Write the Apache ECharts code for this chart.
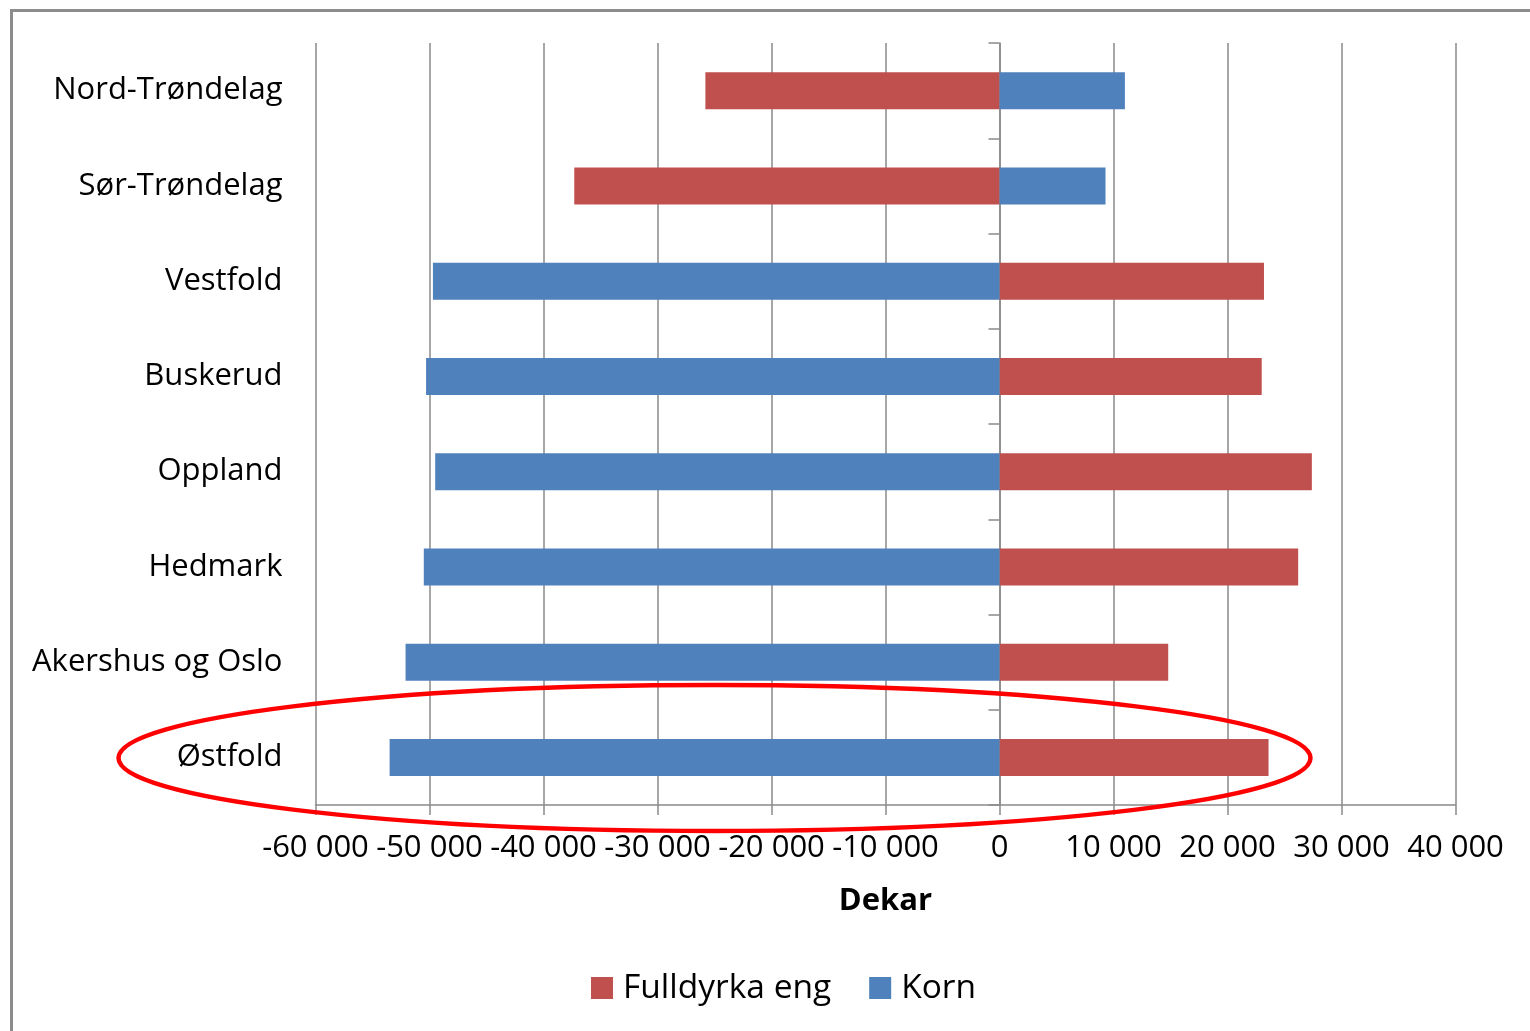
<!DOCTYPE html>
<html>
<head>
<meta charset="utf-8">
<script src="https://cdn.jsdelivr.net/npm/echarts@6/dist/echarts.min.js"></script>
<style>
  html, body { margin: 0; padding: 0; background: #fff; }
  #chart { width: 1530px; height: 1031px; }
</style>
</head>
<body>
<div id="chart"></div>
<script>
// Fylker, listed from bottom to top of the category axis
const categories = ['Østfold', 'Akershus og Oslo', 'Hedmark', 'Oppland', 'Buskerud', 'Vestfold', 'Sør-Trøndelag', 'Nord-Trøndelag'];
// Change in dekar per crop type
const fulldyrkaEng = [23600, 14800, 26200, 27400, 23000, 23200, -37300, -25800];
const korn = [-53500, -52100, -50500, -49500, -50300, -49700, 9300, 11000];
const seriesNames = ['Fulldyrka eng', 'Korn'];
const axisMin = -60000, axisMax = 40000, axisStep = 10000;

const FONT = '"Open Sans", Lato, sans-serif';
const GRID_COLOR = '#8a8a8a';

function fmt(v) {
  const s = Math.abs(v).toString().replace(/\B(?=(\d{3})+(?!\d))/g, ' ');
  return (v < 0 ? '-' : '') + s;
}

const chart = echarts.init(document.getElementById('chart'), null, { renderer: 'canvas' });
chart.setOption({
  backgroundColor: '#ffffff',
  animation: false,
  textStyle: { fontFamily: FONT },
  grid: { left: 315.5, right: 74.5, top: 43, bottom: 226, containLabel: false },
  legend: {
    data: seriesNames,
    bottom: 21,
    left: 586,
    itemWidth: 22,
    itemHeight: 22,
    itemGap: 38,
    icon: 'rect',
    textStyle: { fontFamily: FONT, fontSize: 33.5, color: '#000', padding: [0, 0, 0, 5] }
  },
  xAxis: {
    type: 'value',
    min: axisMin,
    max: axisMax,
    interval: axisStep,
    name: 'Dekar',
    nameLocation: 'middle',
    nameGap: 81,
    nameTextStyle: { fontFamily: FONT, fontSize: 31, fontWeight: 'bold', color: '#000' },
    axisLine: { show: true, lineStyle: { color: GRID_COLOR, width: 1.5 } },
    axisTick: { show: true, length: 10, lineStyle: { color: GRID_COLOR, width: 1.5 } },
    axisLabel: { fontFamily: FONT, fontSize: 31, color: '#000', margin: 28, formatter: fmt },
    splitLine: { show: true, lineStyle: { color: GRID_COLOR, width: 1.5 } }
  },
  yAxis: [
    {
      // category names along the left edge
      type: 'category',
      data: categories,
      position: 'left',
      axisLine: { show: false, onZero: false },
      axisTick: { show: false },
      axisLabel: { fontFamily: FONT, fontSize: 31, color: '#000', margin: 33, padding: [4, 0, 0, 0] },
      splitLine: { show: false }
    },
    {
      // axis line with boundary ticks running through zero
      type: 'category',
      data: categories,
      position: 'left',
      axisLine: { show: true, onZero: true, lineStyle: { color: GRID_COLOR, width: 1.5 } },
      axisTick: { show: true, length: 11, lineStyle: { color: GRID_COLOR, width: 1.5 } },
      axisLabel: { show: false },
      splitLine: { show: false }
    }
  ],
  series: [
    {
      name: seriesNames[0],
      type: 'bar',
      stack: 'total',
      yAxisIndex: 0,
      barWidth: 37,
      data: fulldyrkaEng,
      itemStyle: { color: '#C0504D' },
      z: 2
    },
    {
      name: seriesNames[1],
      type: 'bar',
      stack: 'total',
      yAxisIndex: 0,
      barWidth: 37,
      data: korn,
      itemStyle: { color: '#4F81BD' },
      z: 2
    }
  ],
  graphic: [
    {
      // chart frame
      type: 'rect',
      silent: true,
      shape: { x: 11.5, y: 10.5, width: 1700, height: 1200 },
      style: { fill: 'none', stroke: '#8c8c8c', lineWidth: 3 },
      z: 0
    },
    {
      // highlight around Østfold
      type: 'ellipse',
      silent: true,
      shape: { cx: 714.5, cy: 758, rx: 596, ry: 73 },
      style: { fill: 'none', stroke: '#ff0000', lineWidth: 4.5 },
      z: 100
    }
  ]
});
</script>
</body>
</html>
